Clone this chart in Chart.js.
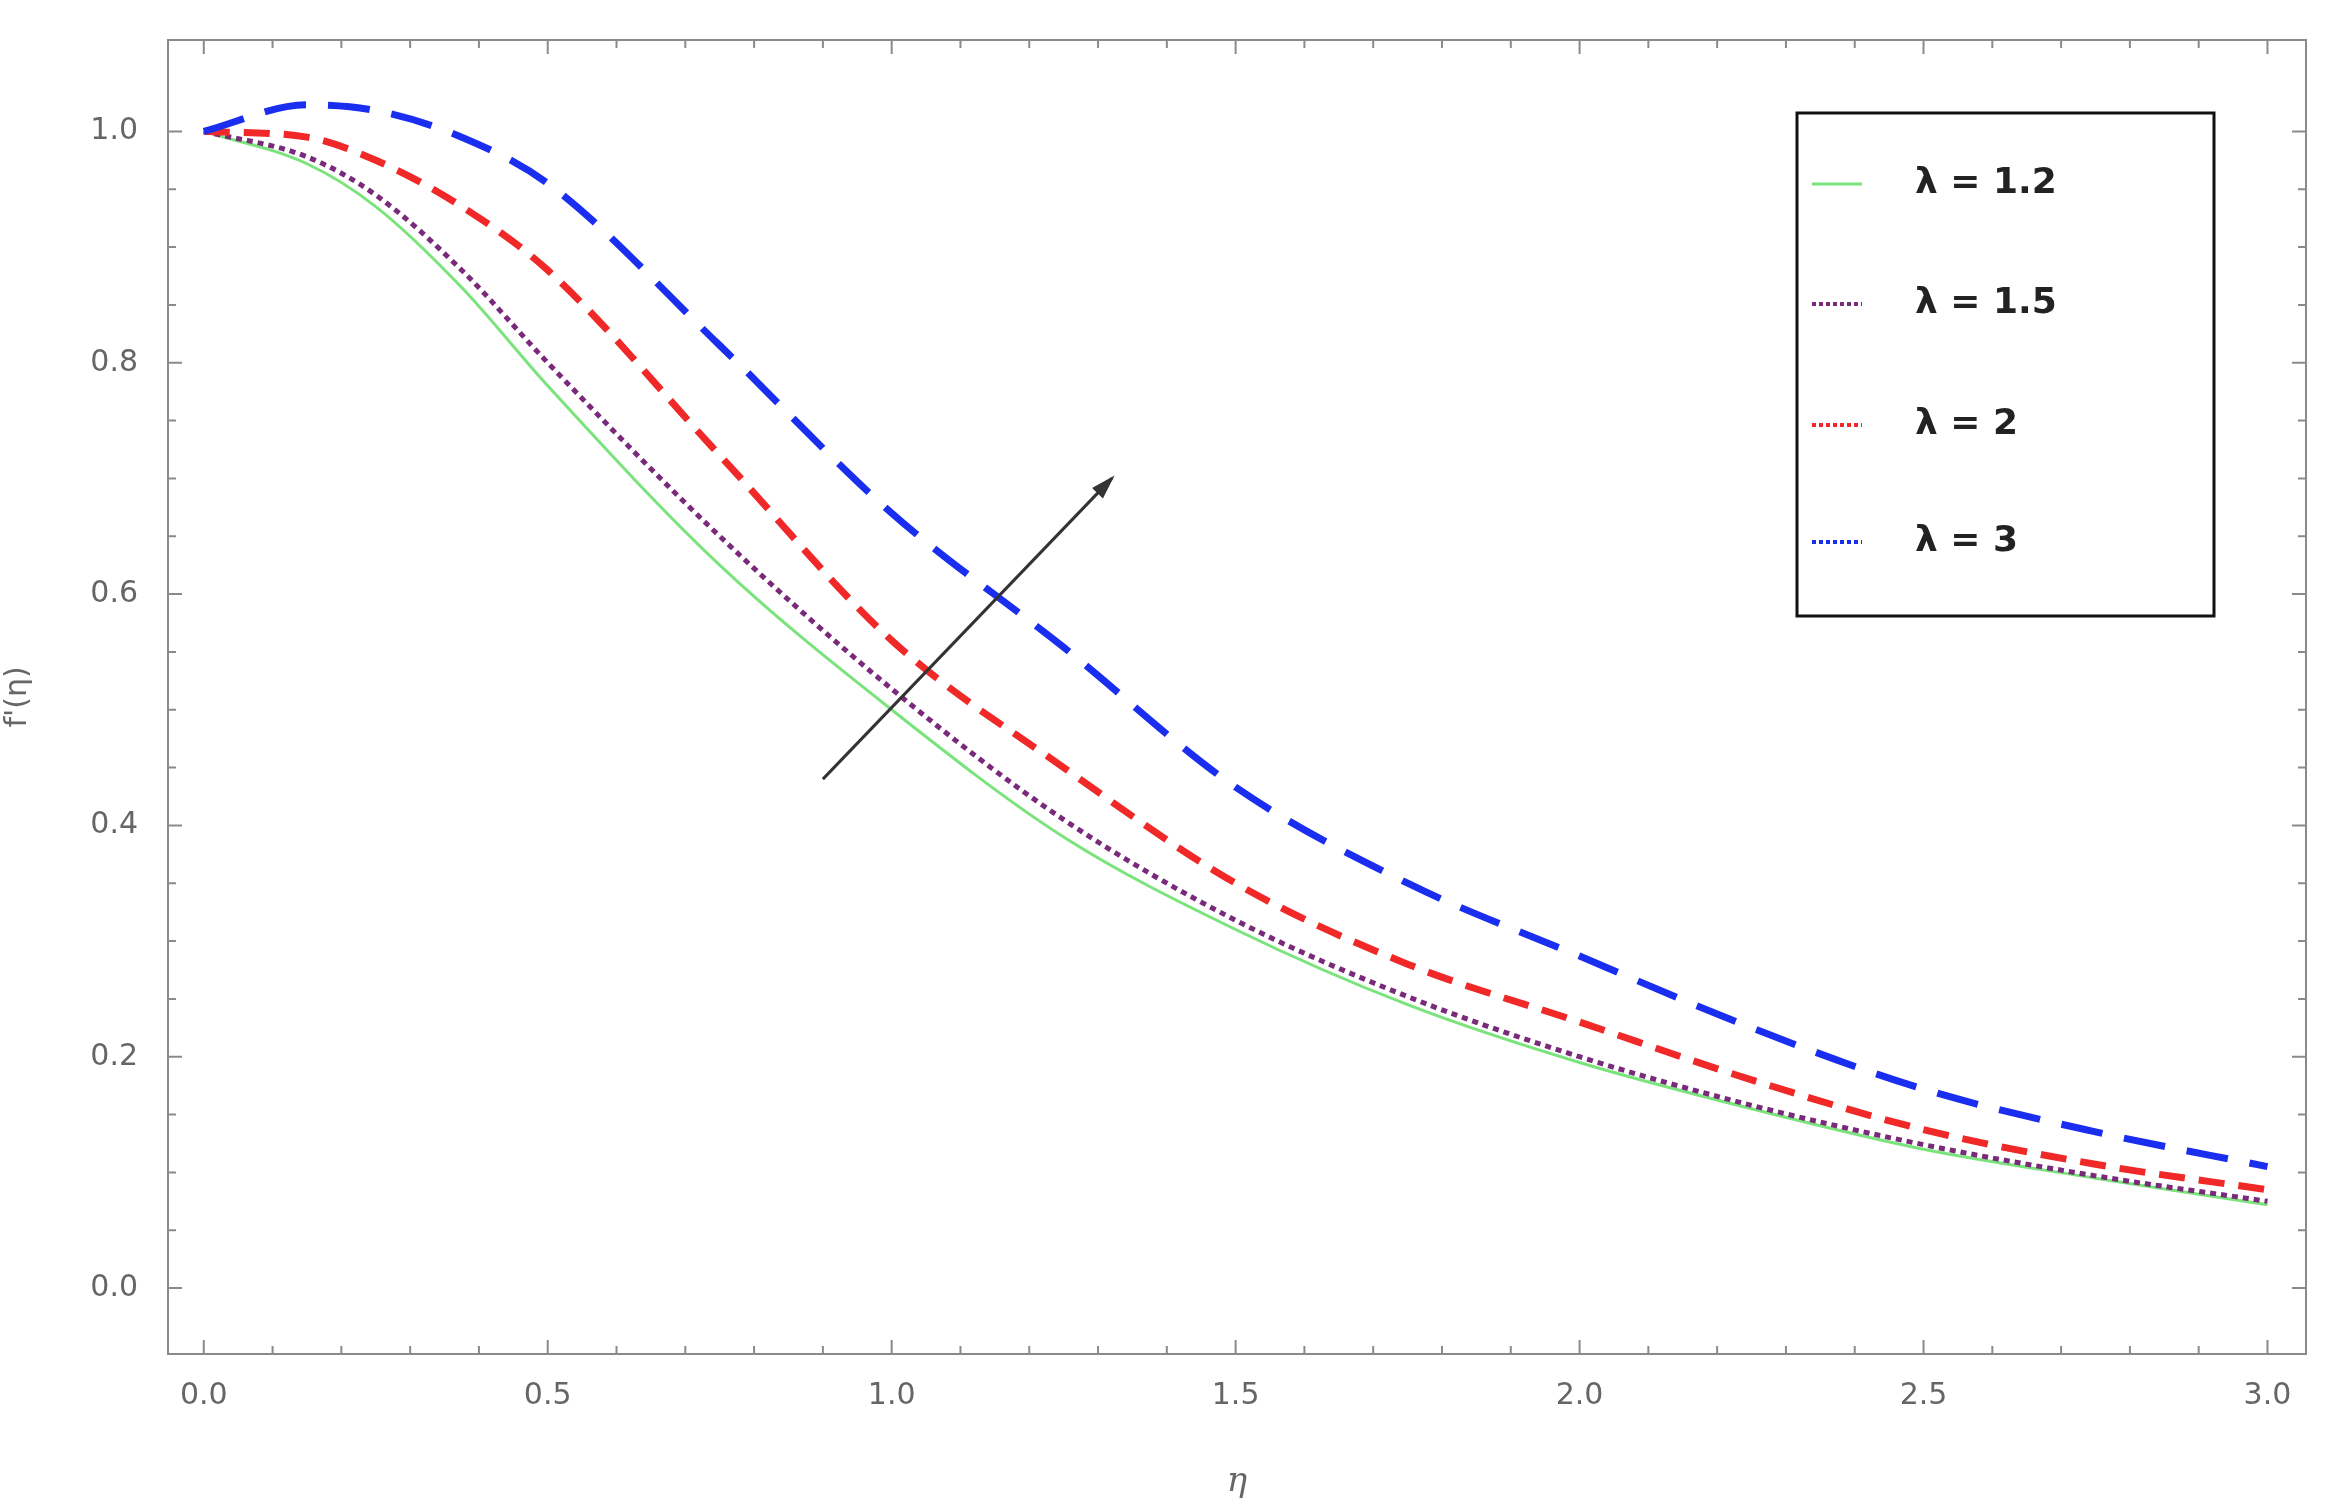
<!DOCTYPE html>
<html>
<head>
<meta charset="utf-8">
<script src="https://cdn.jsdelivr.net/npm/chart.js@4.4.1/dist/chart.umd.min.js"></script>
<style>
  html, body { margin: 0; padding: 0; background: #fff; }
  #wrap { width: 2333px; height: 1507px; }
</style>
</head>
<body>
<div id="wrap"><canvas id="c"></canvas></div>
<script>
// eta values and f'(eta)
const eta = [0, 0.15, 0.25, 0.375, 0.5, 0.75, 1.0, 1.25, 1.5, 1.75, 2.0, 2.25, 2.5, 2.75, 3.0];
const lam12 = [1.0, 0.972, 0.935, 0.865, 0.78, 0.625, 0.50, 0.39, 0.31, 0.245, 0.195, 0.155, 0.12, 0.095, 0.072];
const lam15 = [1.0, 0.978, 0.945, 0.88, 0.80, 0.65, 0.518, 0.405, 0.318, 0.252, 0.20, 0.158, 0.124, 0.097, 0.075];
const lam2  = [1.0, 0.995, 0.975, 0.935, 0.88, 0.72, 0.56, 0.45, 0.35, 0.28, 0.23, 0.18, 0.137, 0.107, 0.085];
const lam3  = [1.0, 1.023, 1.018, 0.995, 0.955, 0.815, 0.67, 0.554, 0.433, 0.35, 0.287, 0.225, 0.172, 0.135, 0.105];
const xTicks = [0, 0.5, 1.0, 1.5, 2.0, 2.5, 3.0];
const yTicks = [0, 0.2, 0.4, 0.6, 0.8, 1.0];
const labels = ['λ = 1.2', 'λ = 1.5', 'λ = 2', 'λ = 3'];
const arrowFrom = [0.9, 0.44], arrowTo = [1.32, 0.70];

const pts = ys => eta.map((x, i) => ({ x: x, y: ys[i] }));
const styles = [
  { color: '#7be37b', width: 3, dash: [] },
  { color: '#7a2a7a', width: 5, dash: [6, 5] },
  { color: '#f02828', width: 7, dash: [26, 14] },
  { color: '#1a2ef0', width: 7, dash: [42, 22] }
];
const series = [lam12, lam15, lam2, lam3];

const frame = {
  id: 'frame',
  afterDraw(chart) {
    const ctx = chart.ctx, a = chart.chartArea;
    const xs = chart.scales.x, ys = chart.scales.y;
    ctx.save();
    ctx.strokeStyle = '#8a8a8a';
    ctx.lineWidth = 2;
    ctx.strokeRect(a.left, a.top, a.right - a.left, a.bottom - a.top);
    // ticks on all four sides
    for (let v = 0; v <= 3.0001; v += 0.1) {
      const major = Math.abs(v * 2 - Math.round(v * 2)) < 1e-6;
      const L = major ? 14 : 8, p = xs.getPixelForValue(v);
      ctx.beginPath();
      ctx.moveTo(p, a.bottom); ctx.lineTo(p, a.bottom - L);
      ctx.moveTo(p, a.top); ctx.lineTo(p, a.top + L);
      ctx.stroke();
    }
    for (let v = 0; v <= 1.0001; v += 0.05) {
      const major = Math.abs(v * 5 - Math.round(v * 5)) < 1e-6;
      const L = major ? 14 : 8, p = ys.getPixelForValue(v);
      ctx.beginPath();
      ctx.moveTo(a.left, p); ctx.lineTo(a.left + L, p);
      ctx.moveTo(a.right, p); ctx.lineTo(a.right - L, p);
      ctx.stroke();
    }
    // arrow
    const x1 = xs.getPixelForValue(arrowFrom[0]), y1 = ys.getPixelForValue(arrowFrom[1]);
    const x2 = xs.getPixelForValue(arrowTo[0]), y2 = ys.getPixelForValue(arrowTo[1]);
    ctx.strokeStyle = '#333'; ctx.fillStyle = '#333'; ctx.lineWidth = 3;
    ctx.beginPath(); ctx.moveTo(x1, y1); ctx.lineTo(x2, y2); ctx.stroke();
    const ang = Math.atan2(y2 - y1, x2 - x1), h = 22;
    ctx.beginPath();
    ctx.moveTo(x2 + 4 * Math.cos(ang), y2 + 4 * Math.sin(ang));
    ctx.lineTo(x2 - h * Math.cos(ang - 0.35), y2 - h * Math.sin(ang - 0.35));
    ctx.lineTo(x2 - h * Math.cos(ang + 0.35), y2 - h * Math.sin(ang + 0.35));
    ctx.closePath(); ctx.fill();
    // legend box
    const bx = 1797, by = 113, bw = 417, bh = 503;
    ctx.fillStyle = '#fff';
    ctx.fillRect(bx, by, bw, bh);
    ctx.strokeStyle = '#111'; ctx.lineWidth = 3;
    ctx.strokeRect(bx, by, bw, bh);
    ctx.font = 'bold 36px "DejaVu Sans", sans-serif';
    ctx.textBaseline = 'middle';
    const rowY = [184, 304, 425, 542];
    labels.forEach((t, i) => {
      const st = styles[i];
      ctx.strokeStyle = st.color;
      ctx.lineWidth = i === 0 ? 3 : 4;
      ctx.setLineDash(i === 0 ? [] : [4, 3]);
      ctx.beginPath(); ctx.moveTo(1812, rowY[i]); ctx.lineTo(1862, rowY[i]); ctx.stroke();
      ctx.setLineDash([]);
      ctx.fillStyle = '#222';
      ctx.fillText(t, 1915, rowY[i]);
    });
    ctx.restore();
  }
};

new Chart(document.getElementById('c'), {
  type: 'scatter',
  data: {
    datasets: series.map((s, i) => ({
      label: labels[i],
      data: pts(s),
      showLine: true,
      cubicInterpolationMode: 'monotone',
      borderColor: styles[i].color,
      borderWidth: styles[i].width,
      borderDash: styles[i].dash,
      pointRadius: 0,
      fill: false
    })).reverse()
  },
  options: {
    responsive: true,
    maintainAspectRatio: false,
    animation: false,
    layout: { padding: { top: 27, right: 27, left: 0, bottom: 0 } },
    plugins: { legend: { display: false }, tooltip: { enabled: false } },
    scales: {
      x: {
        type: 'linear', min: -0.052, max: 3.056,
        afterBuildTicks: s => { s.ticks = xTicks.map(v => ({ value: v })); },
        afterFit: s => { s.height = 153; },
        grid: { display: false },
        border: { display: false },
        ticks: { color: '#666', font: { size: 30, family: 'DejaVu Sans' }, padding: 16,
                 callback: v => v.toFixed(1), maxRotation: 0 },
        title: { display: true, text: 'η', color: '#666',
                 font: { size: 34, style: 'italic', family: 'DejaVu Serif' }, padding: { top: 18 } }
      },
      y: {
        type: 'linear', min: -0.057, max: 1.079,
        afterBuildTicks: s => { s.ticks = yTicks.map(v => ({ value: v })); },
        afterFit: s => { s.width = 168; },
        grid: { display: false },
        border: { display: false },
        ticks: { color: '#666', font: { size: 30, family: 'DejaVu Sans' }, padding: 22,
                 callback: v => v.toFixed(1) },
        title: { display: true, text: "f'(η)", color: '#666',
                 font: { size: 30, family: 'DejaVu Sans' }, padding: 0 }
      }
    }
  },
  plugins: [frame]
});
</script>
</body>
</html>
